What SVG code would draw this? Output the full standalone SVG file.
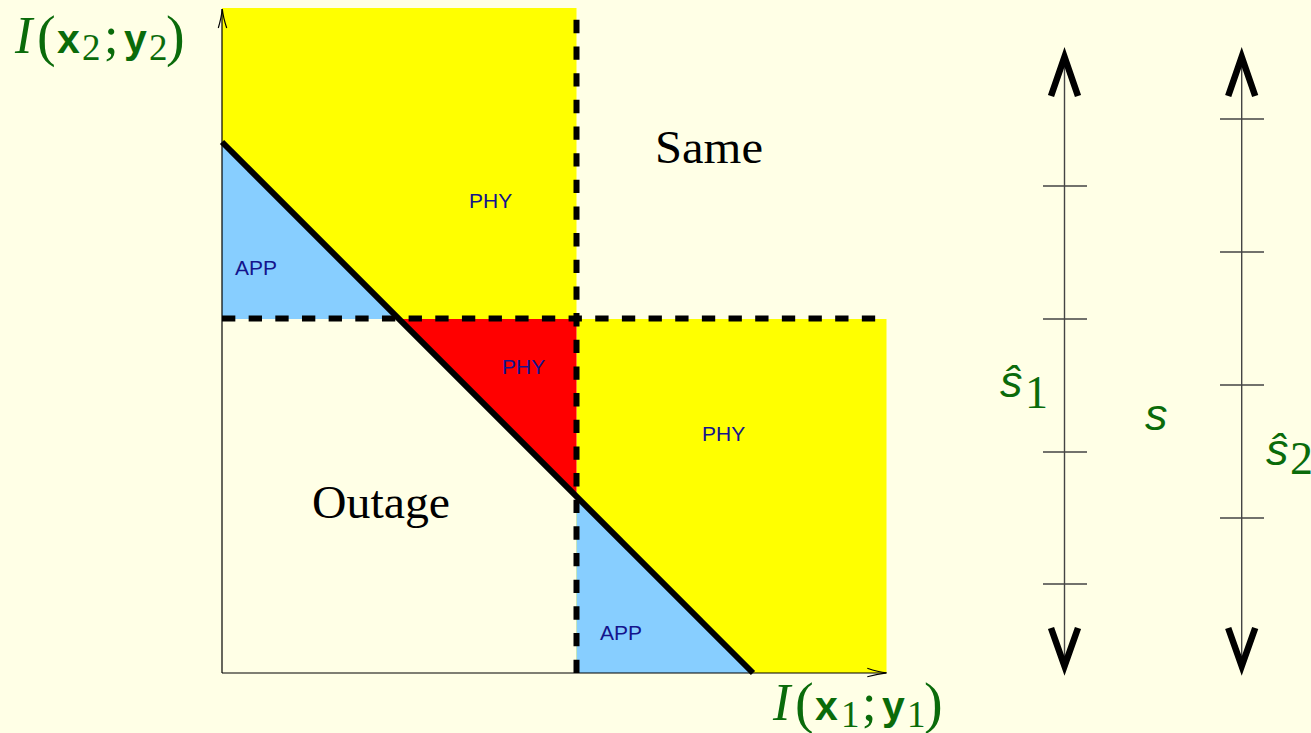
<svg xmlns="http://www.w3.org/2000/svg" width="1311" height="733" viewBox="0 0 1311 733">
<style>
.bg{fill:#ffffe6}
.yel{fill:#ffff00}
.blu{fill:#87ceff}
.red{fill:#ff0000}
.axis{stroke:#000;stroke-width:1.2;fill:none}
.dash{stroke:#000;stroke-width:6;stroke-dasharray:13.33 13.33;fill:none}
.diag{stroke:#000;stroke-width:6;fill:none}
.scale{stroke:#444;stroke-width:1.4;fill:none}
.head{stroke:#000;stroke-width:6.5;fill:none;stroke-linejoin:miter}
.small{font-family:"Liberation Sans",Arial,sans-serif;font-size:21px;fill:#14148c}
.big{font-family:"Liberation Serif","Times New Roman",serif;font-size:46px;fill:#000}
.lab{fill:#0a6b0a}
.ser{font-family:"Liberation Serif","Times New Roman",serif}
.bsans{font-family:"Liberation Sans",Arial,sans-serif;font-weight:bold;font-size:41px}
.isans{font-family:"Liberation Sans",Arial,sans-serif;font-style:italic;font-size:45px}
</style>
<rect class="bg" x="0" y="0" width="1311" height="733"/>
<g id="regions">
  <rect id="phy-top" class="yel" x="222" y="8" width="354.5" height="311"/>
  <rect id="phy-right" class="yel" x="576.5" y="319" width="310" height="354"/>
  <polygon id="app-top" class="blu" points="222,142 222,319 399,319"/>
  <polygon id="phy-red" class="red" points="399,319 576.5,319 576.5,496.5"/>
  <polygon id="app-bottom" class="blu" points="576.5,496.5 576.5,673 752,673"/>
</g>
<g id="connectors">
  <path class="dash" d="M576.5,673 V8"/>
  <path class="dash" d="M222,318.5 H887"/>
  <path class="diag" d="M222,142 L753,673"/>
  <path class="axis" d="M222,673 V9"/>
  <path class="axis" d="M218.3,28 Q221.5,17 222.3,9 Q223.1,17 226.7,28"/>
  <path class="axis" d="M222,673 H886"/>
  <path class="axis" d="M867.3,668.3 Q878,672 886.7,672.8 Q878,673.6 867.3,676.8"/>
  <g id="scale-s1">
    <path class="scale" d="M1064.5,60 V663"/>
    <path class="scale" d="M1043,186 H1087 M1043,319 H1087 M1043,452 H1087 M1043,584 H1087"/>
    <path class="head" d="M1051,96 L1064.5,57 L1078,96"/>
    <path class="head" d="M1051,628 L1064.5,666 L1078,628"/>
  </g>
  <g id="scale-s2">
    <path class="scale" d="M1241.7,60 V663"/>
    <path class="scale" d="M1220,119 H1264 M1220,252 H1264 M1220,385 H1264 M1220,518 H1264"/>
    <path class="head" d="M1228.2,96 L1241.7,57 L1255.2,96"/>
    <path class="head" d="M1228.2,628 L1241.7,666 L1255.2,628"/>
  </g>
</g>
<g id="labels">
  <text class="small" x="469" y="208">PHY</text>
  <text class="small" x="502" y="374">PHY</text>
  <text class="small" x="702" y="441">PHY</text>
  <text class="small" x="235" y="275">APP</text>
  <text class="small" x="600" y="640">APP</text>
  <text class="big" x="655" y="163" textLength="108" lengthAdjust="spacingAndGlyphs">Same</text>
  <text class="big" x="312" y="518" textLength="138" lengthAdjust="spacingAndGlyphs">Outage</text>
</g>
<g id="axis-label-y" class="lab">
  <text class="ser" x="15" y="53" font-size="52" font-style="italic">I</text>
  <text class="ser" x="37" y="55" font-size="56">(</text>
  <text class="bsans" x="57" y="53">x</text>
  <text class="ser" x="82" y="60" font-size="37">2</text>
  <text class="ser" x="104" y="53" font-size="52">;</text>
  <text class="bsans" x="124" y="53">y</text>
  <text class="ser" x="149" y="60" font-size="37">2</text>
  <text class="ser" x="166" y="55" font-size="56">)</text>
</g>
<g id="axis-label-x" class="lab">
  <text class="ser" x="773" y="720" font-size="52" font-style="italic">I</text>
  <text class="ser" x="795" y="722" font-size="56">(</text>
  <text class="bsans" x="815" y="720">x</text>
  <text class="ser" x="841" y="727" font-size="37">1</text>
  <text class="ser" x="862" y="720" font-size="52">;</text>
  <text class="bsans" x="882" y="720">y</text>
  <text class="ser" x="907" y="727" font-size="37">1</text>
  <text class="ser" x="924" y="722" font-size="56">)</text>
</g>
<g id="scale-labels" class="lab">
  <text class="isans" x="1000" y="397">ŝ</text>
  <text class="ser" x="1025" y="408" font-size="46">1</text>
  <text class="isans" x="1145" y="430">s</text>
  <text class="isans" x="1266" y="465">ŝ</text>
  <text class="ser" x="1290" y="474" font-size="46">2</text>
</g>
</svg>
